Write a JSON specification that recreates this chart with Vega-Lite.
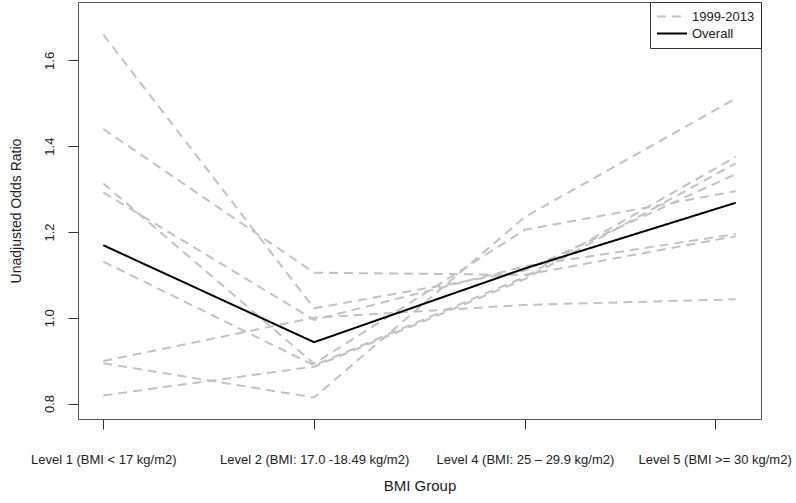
{
  "$schema": "https://vega.github.io/schema/vega-lite/v6.json",
  "width": 683,
  "height": 417,
  "autosize": {"type": "none"},
  "padding": {"left": 78, "top": 2, "right": 35, "bottom": 84},
  "background": "white",
  "config": {
    "font": "Liberation Sans",
    "view": {"stroke": "#555555", "strokeWidth": 1},
    "axis": {"grid": false, "domain": false, "tickColor": "#333333", "tickSize": 10, "tickWidth": 1, "labelColor": "#222222", "titleColor": "#222222", "titleFontWeight": "normal", "labelFontSize": 13, "titleFontSize": 15, "labelFont": "Liberation Sans", "titleFont": "Liberation Sans", "labelLimit": 400}
  },
  "data": {
    "values": [
      {"series": "s1", "group": "1999-2013", "level": 1, "ratio": 1.66},
      {"series": "s1", "group": "1999-2013", "level": 2, "ratio": 1.022},
      {"series": "s1", "group": "1999-2013", "level": 3, "ratio": 1.11},
      {"series": "s1", "group": "1999-2013", "level": 4, "ratio": 1.335},
      {"series": "s2", "group": "1999-2013", "level": 1, "ratio": 1.44},
      {"series": "s2", "group": "1999-2013", "level": 2, "ratio": 1.105},
      {"series": "s2", "group": "1999-2013", "level": 3, "ratio": 1.10},
      {"series": "s2", "group": "1999-2013", "level": 4, "ratio": 1.19},
      {"series": "s3", "group": "1999-2013", "level": 1, "ratio": 1.313},
      {"series": "s3", "group": "1999-2013", "level": 2, "ratio": 0.893},
      {"series": "s3", "group": "1999-2013", "level": 3, "ratio": 1.205},
      {"series": "s3", "group": "1999-2013", "level": 4, "ratio": 1.295},
      {"series": "s4", "group": "1999-2013", "level": 1, "ratio": 1.292},
      {"series": "s4", "group": "1999-2013", "level": 2, "ratio": 0.995},
      {"series": "s4", "group": "1999-2013", "level": 3, "ratio": 1.12},
      {"series": "s4", "group": "1999-2013", "level": 4, "ratio": 1.195},
      {"series": "s5", "group": "1999-2013", "level": 1, "ratio": 1.131},
      {"series": "s5", "group": "1999-2013", "level": 2, "ratio": 0.889},
      {"series": "s5", "group": "1999-2013", "level": 3, "ratio": 1.095},
      {"series": "s5", "group": "1999-2013", "level": 4, "ratio": 1.375},
      {"series": "s6", "group": "1999-2013", "level": 1, "ratio": 0.899},
      {"series": "s6", "group": "1999-2013", "level": 2, "ratio": 1.0},
      {"series": "s6", "group": "1999-2013", "level": 3, "ratio": 1.03},
      {"series": "s6", "group": "1999-2013", "level": 4, "ratio": 1.043},
      {"series": "s7", "group": "1999-2013", "level": 1, "ratio": 0.894},
      {"series": "s7", "group": "1999-2013", "level": 2, "ratio": 0.814},
      {"series": "s7", "group": "1999-2013", "level": 3, "ratio": 1.235},
      {"series": "s7", "group": "1999-2013", "level": 4, "ratio": 1.511},
      {"series": "s8", "group": "1999-2013", "level": 1, "ratio": 0.819},
      {"series": "s8", "group": "1999-2013", "level": 2, "ratio": 0.886},
      {"series": "s8", "group": "1999-2013", "level": 3, "ratio": 1.09},
      {"series": "s8", "group": "1999-2013", "level": 4, "ratio": 1.36},
      {"series": "z_overall", "group": "Overall", "level": 1, "ratio": 1.169},
      {"series": "z_overall", "group": "Overall", "level": 2, "ratio": 0.943},
      {"series": "z_overall", "group": "Overall", "level": 3, "ratio": 1.115},
      {"series": "z_overall", "group": "Overall", "level": 4, "ratio": 1.268}
    ]
  },
  "mark": {"type": "line", "strokeWidth": 2},
  "encoding": {
    "x": {
      "field": "level", "type": "quantitative",
      "scale": {"domain": [0.88, 4.12], "nice": false, "zero": false},
      "axis": {
        "values": [1, 2, 3, 3.9],
        "labelExpr": "datum.value == 1 ? 'Level 1 (BMI < 17 kg/m2)' : datum.value == 2 ? 'Level 2 (BMI: 17.0 -18.49 kg/m2)' : datum.value == 3 ? 'Level 4 (BMI: 25 – 29.9 kg/m2)' : 'Level 5 (BMI >= 30 kg/m2)'",
        "labelFlush": false, "labelOverlap": false, "labelLimit": 400,
        "labelPadding": 24, "title": "BMI Group", "titlePadding": 12
      }
    },
    "y": {
      "field": "ratio", "type": "quantitative",
      "scale": {"domain": [0.764, 1.736], "nice": false, "zero": false},
      "axis": {
        "values": [0.8, 1.0, 1.2, 1.4, 1.6], "format": ".1f",
        "labelAngle": 270, "labelAlign": "center", "labelBaseline": "bottom",
        "labelPadding": 12, "title": "Unadjusted Odds Ratio", "titleFontSize": 14, "titlePadding": 20
      }
    },
    "color": {
      "field": "group", "type": "nominal",
      "scale": {"domain": ["1999-2013", "Overall"], "range": ["#c2c2c2", "#000000"]},
      "legend": {"title": null, "orient": "top-right", "offset": 0, "strokeColor": "#333333", "padding": 6, "symbolType": "stroke", "symbolSize": 900, "clipHeight": 17, "symbolStrokeWidth": 2, "labelFontSize": 13, "labelColor": "#222222", "rowPadding": 0, "fillColor": "white"}
    },
    "strokeDash": {
      "field": "group", "type": "nominal",
      "scale": {"domain": ["1999-2013", "Overall"], "range": [[9, 6], [1, 0]]},
      "legend": {"title": null, "orient": "top-right", "offset": 0, "strokeColor": "#333333", "padding": 6, "symbolType": "stroke", "symbolSize": 900, "clipHeight": 17, "symbolStrokeWidth": 2, "labelFontSize": 13, "labelColor": "#222222", "rowPadding": 0, "fillColor": "white"}
    },
    "detail": {"field": "series", "type": "nominal"}
  }
}
